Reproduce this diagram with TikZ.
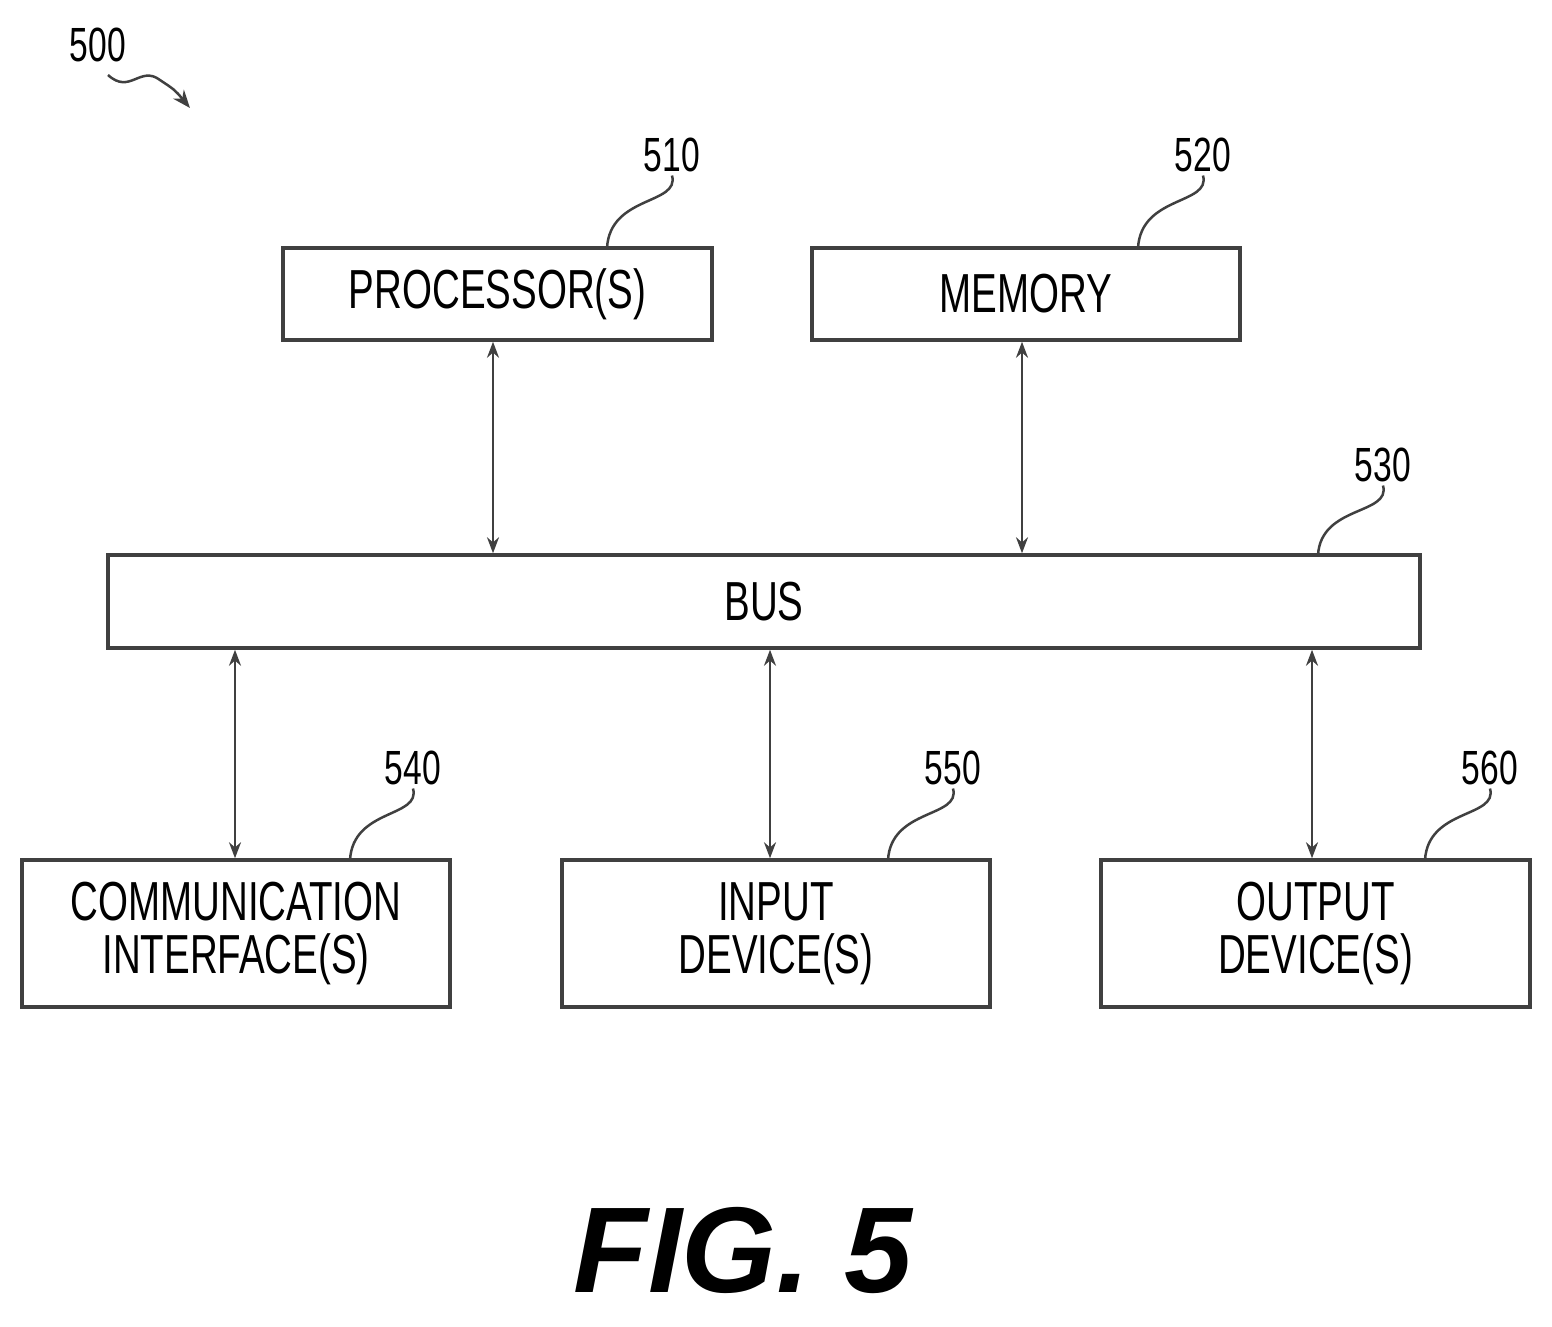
\documentclass[tikz,border=0pt]{standalone}
\usepackage{fontspec}
\setmainfont{Liberation Sans}
\usetikzlibrary{arrows.meta}
\begin{document}
\begin{tikzpicture}[x=1pt,y=-1pt,
  box/.style={draw=black!75,line width=3.5pt,inner sep=0pt,font=\fontsize{55}{55}\selectfont,align=center},
  lbl/.style={font=\fontsize{48}{50}\selectfont},
  conn/.style={draw=black!75,line width=2.5pt,{Stealth[length=16pt,width=12pt]}-{Stealth[length=16pt,width=12pt]}},
  lead/.style={draw=black!75,line width=2.5pt}]
\useasboundingbox (0,0) rectangle (1552,1326);
\newcommand{\nar}[1]{\scalebox{0.7}[1]{#1}}
\node[box,minimum width=429pt,minimum height=92pt] (p) at (497.5,294) {\nar{PROCESSOR(S)}};
\node[box,minimum width=428pt,minimum height=92pt] (m) at (1026,294) {\nar{MEMORY}};
\node[box,minimum width=1312pt,minimum height=93pt] (b) at (764,601.5) {\nar{BUS}};
\node[box,minimum width=428pt,minimum height=147pt] (c) at (236,933.5) {\nar{COMMUNICATION}\\[-2pt]\nar{INTERFACE(S)}};
\node[box,minimum width=428pt,minimum height=147pt] (i) at (776,933.5) {\nar{INPUT}\\[-2pt]\nar{DEVICE(S)}};
\node[box,minimum width=429pt,minimum height=147pt] (o) at (1315.5,933.5) {\nar{OUTPUT}\\[-2pt]\nar{DEVICE(S)}};
\draw[conn] (p.south -| 493,0) -- (b.north -| 493,0);
\draw[conn] (m.south -| 1022,0) -- (b.north -| 1022,0);
\draw[conn] (b.south -| 235,0) -- (c.north -| 235,0);
\draw[conn] (b.south -| 770,0) -- (i.north -| 770,0);
\draw[conn] (b.south -| 1312,0) -- (o.north -| 1312,0);
\node[lbl] (l510) at (672,155) {\nar{510}};
\node[lbl] (l520) at (1203,155) {\nar{520}};
\node[lbl] (l530) at (1383,465) {\nar{530}};
\node[lbl] (l540) at (413,768) {\nar{540}};
\node[lbl] (l550) at (953,768) {\nar{550}};
\node[lbl] (l560) at (1490,768) {\nar{560}};
\node[lbl] (l500) at (98,45) {\nar{500}};
\coordinate (e510) at (607,248);
\coordinate (e520) at (1138,248);
\coordinate (e530) at (1318,555);
\coordinate (e540) at (350,860);
\coordinate (e550) at (888,860);
\coordinate (e560) at (1425,860);
\draw[lead] (l510.south) .. controls (680,205) and (610,195) .. (e510);
\draw[lead] (l520.south) .. controls (1211,205) and (1141,195) .. (e520);
\draw[lead] (l530.south) .. controls (1391,515) and (1321,505) .. (e530);
\draw[lead] (l540.south) .. controls (421,818) and (353,808) .. (e540);
\draw[lead] (l550.south) .. controls (961,818) and (891,808) .. (e550);
\draw[lead] (l560.south) .. controls (1498,818) and (1428,808) .. (e560);
\coordinate (a500) at (190,108);
\draw[lead,-{Stealth[length=18pt,width=14pt]}] (108,75) .. controls (130,95) and (140,65) .. (160,80) .. controls (175,90) .. (a500);
\node[font=\fontsize{122}{122}\selectfont\bfseries\itshape] (fig) at (743,1250) {FIG. 5};
\end{tikzpicture}
\end{document}
